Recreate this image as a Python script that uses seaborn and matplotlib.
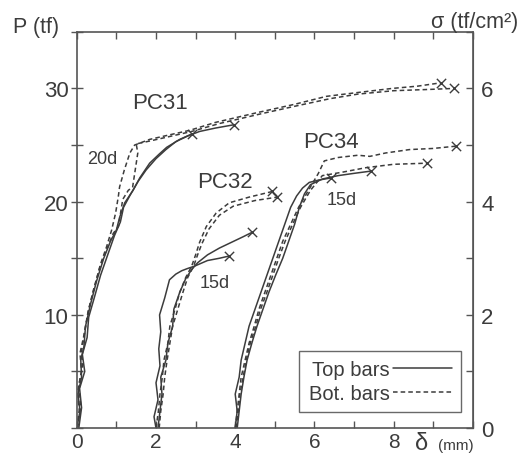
import numpy as np
import pandas as pd
import matplotlib
matplotlib.use("Agg")
import matplotlib.pyplot as plt
import seaborn as sns
from matplotlib.lines import Line2D

# 每条曲线的数据 (δ mm, P tf)，试件 PC32/PC34 已在横轴上平移 2 mm / 4 mm
pc31_top_a_d = [0.0, 0.08, 0.03, 0.12, 0.10, 0.18, 0.22, 0.35, 0.50, 0.68, 0.85, 1.00, 1.08, 1.21, 1.42, 1.59, 1.84, 2.08, 2.27, 2.60, 2.92]
pc31_top_a_p = [0.0, 1.5, 3.0, 4.5, 6.0, 7.2, 9.0, 11.0, 13.0, 15.0, 16.5, 17.5, 18.6, 19.9, 21.0, 22.1, 23.4, 24.2, 24.8, 25.5, 26.0]
pc31_top_b_d = [0.05, 0.12, 0.07, 0.20, 0.14, 0.26, 0.30, 0.44, 0.60, 0.80, 0.95, 1.10, 1.18, 1.35, 1.55, 1.75, 2.00, 2.25, 2.50, 2.80, 3.10, 3.50, 3.98]
pc31_top_b_p = [0.0, 1.8, 3.5, 5.0, 6.5, 8.0, 9.8, 11.5, 13.5, 15.5, 17.0, 18.2, 19.5, 20.6, 21.8, 22.8, 23.8, 24.6, 25.3, 25.8, 26.2, 26.5, 26.8]
pc31_bot_a_d = [0.02, 0.10, 0.05, 0.15, 0.12, 0.20, 0.30, 0.45, 0.60, 0.75, 0.88, 0.98, 1.05, 1.08, 1.20, 1.34, 1.46, 1.84, 2.34, 2.85, 3.50, 4.60, 5.50, 6.30, 7.00, 7.96, 8.60, 9.20]
pc31_bot_a_p = [0.0, 2.0, 3.8, 5.5, 6.8, 8.5, 10.5, 12.5, 14.5, 16.0, 17.5, 19.0, 20.5, 21.3, 22.8, 24.3, 25.0, 25.5, 25.9, 26.3, 27.0, 27.9, 28.6, 29.3, 29.6, 30.0, 30.2, 30.5]
pc31_bot_b_d = [0.0, 0.06, 0.02, 0.12, 0.08, 0.18, 0.28, 0.42, 0.58, 0.78, 0.92, 1.05, 1.16, 1.30, 1.41, 1.54, 1.50, 1.90, 2.40, 2.90, 3.60, 4.70, 5.60, 6.40, 7.10, 8.00, 8.80, 9.52]
pc31_bot_b_p = [0.0, 1.6, 3.2, 5.0, 6.6, 8.2, 10.2, 12.2, 14.2, 16.0, 17.2, 17.8, 20.2, 21.0, 21.3, 24.3, 25.1, 25.4, 25.8, 26.2, 26.9, 27.8, 28.5, 29.1, 29.5, 29.8, 29.9, 30.0]

pc32_top_a_d = [2.00, 1.95, 2.05, 2.00, 2.10, 2.07, 2.12, 2.09, 2.22, 2.34, 2.50, 2.65, 2.80, 2.97, 3.30, 3.60, 3.85]
pc32_top_a_p = [0.0, 1.0, 2.5, 4.0, 5.5, 7.0, 8.5, 10.0, 11.5, 13.1, 13.6, 13.9, 14.1, 14.3, 14.8, 15.0, 15.2]
pc32_top_b_d = [2.05, 2.10, 2.15, 2.12, 2.25, 2.30, 2.42, 2.45, 2.60, 2.75, 2.90, 3.05, 3.30, 3.60, 3.90, 4.20, 4.43]
pc32_top_b_p = [0.0, 1.5, 3.0, 4.5, 6.0, 7.5, 9.0, 10.5, 12.0, 13.2, 14.0, 14.6, 15.3, 15.9, 16.4, 16.9, 17.3]
pc32_bot_a_d = [2.00, 2.06, 2.10, 2.16, 2.20, 2.30, 2.35, 2.48, 2.60, 2.75, 2.90, 3.00, 3.10, 3.27, 3.52, 3.85, 4.35, 4.94]
pc32_bot_a_p = [0.0, 1.5, 3.0, 4.5, 6.0, 7.5, 9.0, 10.5, 12.0, 13.3, 14.3, 15.3, 16.4, 17.8, 19.0, 19.9, 20.4, 20.9]
pc32_bot_b_d = [2.08, 2.12, 2.18, 2.22, 2.28, 2.35, 2.42, 2.55, 2.68, 2.80, 2.95, 3.05, 3.16, 3.34, 3.60, 3.95, 4.50, 5.06]
pc32_bot_b_p = [0.0, 1.5, 3.0, 4.5, 6.0, 7.5, 9.0, 10.5, 12.0, 13.3, 14.3, 15.3, 16.3, 17.6, 18.8, 19.6, 20.1, 20.4]

pc34_top_a_d = [4.00, 4.05, 4.00, 4.10, 4.15, 4.25, 4.35, 4.50, 4.65, 4.80, 4.95, 5.10, 5.25, 5.40, 5.55, 5.70, 5.87, 6.10, 6.42]
pc34_top_a_p = [0.0, 1.5, 3.0, 4.5, 6.0, 7.5, 9.0, 10.5, 12.0, 13.5, 15.0, 16.5, 18.0, 19.5, 20.5, 21.2, 21.7, 21.9, 22.1]
pc34_top_b_d = [4.05, 4.10, 4.15, 4.22, 4.30, 4.42, 4.55, 4.70, 4.85, 5.02, 5.20, 5.35, 5.50, 5.62, 5.75, 5.90, 6.20, 6.60, 7.00, 7.43]
pc34_top_b_p = [0.0, 1.5, 3.0, 4.5, 6.0, 7.5, 9.0, 10.5, 12.0, 13.5, 15.0, 16.5, 18.0, 19.5, 20.7, 21.5, 22.0, 22.3, 22.5, 22.7]
pc34_bot_a_d = [4.00, 4.05, 4.10, 4.15, 4.25, 4.35, 4.48, 4.60, 4.75, 4.90, 5.05, 5.20, 5.40, 5.60, 5.85, 6.10, 6.25, 6.60, 7.10, 7.40, 7.80, 8.40, 9.00, 9.57]
pc34_bot_a_p = [0.0, 1.5, 3.0, 4.5, 6.0, 7.5, 9.0, 10.5, 12.0, 13.5, 15.0, 16.5, 18.0, 19.5, 21.0, 22.5, 23.6, 23.9, 24.1, 24.0, 24.3, 24.6, 24.7, 24.9]
pc34_bot_b_d = [4.02, 4.08, 4.12, 4.20, 4.28, 4.38, 4.52, 4.64, 4.80, 4.95, 5.10, 5.26, 5.45, 5.65, 5.90, 6.20, 6.70, 7.30, 8.00, 8.85]
pc34_bot_b_p = [0.0, 1.5, 3.0, 4.5, 6.0, 7.5, 9.0, 10.5, 12.0, 13.5, 15.0, 16.5, 18.0, 19.5, 21.0, 22.3, 22.6, 23.0, 23.3, 23.4]

curves = {
    ("PC31a", "Top bars"): (pc31_top_a_d, pc31_top_a_p),
    ("PC31b", "Top bars"): (pc31_top_b_d, pc31_top_b_p),
    ("PC31c", "Bot. bars"): (pc31_bot_a_d, pc31_bot_a_p),
    ("PC31d", "Bot. bars"): (pc31_bot_b_d, pc31_bot_b_p),
    ("PC32a", "Top bars"): (pc32_top_a_d, pc32_top_a_p),
    ("PC32b", "Top bars"): (pc32_top_b_d, pc32_top_b_p),
    ("PC32c", "Bot. bars"): (pc32_bot_a_d, pc32_bot_a_p),
    ("PC32d", "Bot. bars"): (pc32_bot_b_d, pc32_bot_b_p),
    ("PC34a", "Top bars"): (pc34_top_a_d, pc34_top_a_p),
    ("PC34b", "Top bars"): (pc34_top_b_d, pc34_top_b_p),
    ("PC34c", "Bot. bars"): (pc34_bot_a_d, pc34_bot_a_p),
    ("PC34d", "Bot. bars"): (pc34_bot_b_d, pc34_bot_b_p),
}

rows = []
for (cid, bars), (d, p) in curves.items():
    for i, (dd, pp) in enumerate(zip(d, p)):
        rows.append({"curve": cid, "bars": bars, "delta": dd, "P": pp, "i": i})
df = pd.DataFrame(rows)
ends = df.sort_values("i").groupby("curve").tail(1)

sns.set_style("ticks")
plt.rcParams["font.family"] = ["Liberation Sans", "DejaVu Sans"]
ink = "#3c3c3c"
plt.rcParams["text.color"] = ink
plt.rcParams["axes.edgecolor"] = "#555555"
plt.rcParams["xtick.color"] = "#555555"
plt.rcParams["ytick.color"] = "#555555"
plt.rcParams["xtick.labelcolor"] = ink
plt.rcParams["ytick.labelcolor"] = ink

fig = plt.figure(figsize=(5.19, 4.56), dpi=100)
ax = fig.add_axes([0.148, 0.059, 0.763, 0.869])

sns.lineplot(data=df, x="delta", y="P", units="curve", style="bars",
             estimator=None, sort=False, color=ink, linewidth=1.1,
             dashes={"Top bars": "", "Bot. bars": (3, 2)}, legend=False, ax=ax)
sns.scatterplot(data=ends, x="delta", y="P", marker="x", color=ink,
                s=45, linewidth=1.0, legend=False, ax=ax, zorder=3)

ax.set_xlim(0, 10)
ax.set_ylim(0, 35)
ax.set_xlabel("")
ax.set_ylabel("")

ax.set_xticks(range(0, 11))
ax.set_xticklabels(["0", "", "2", "", "4", "", "6", "", "8", "", ""], fontsize=15)
ax.set_yticks(range(0, 36, 5))
ax.set_yticklabels(["", "", "10", "", "20", "", "30", ""], fontsize=16)
ax.tick_params(axis="both", direction="in", length=5, width=1, top=True)
ax.tick_params(axis="y", direction="inout", length=8, pad=2)
ax.tick_params(axis="x", pad=2.5)

sec = ax.secondary_yaxis("right", functions=(lambda p: p / 5.0, lambda s: s * 5.0))
sec.set_yticks(range(0, 8))
sec.set_yticklabels(["0", "", "2", "", "4", "", "6", ""], fontsize=16)
sec.tick_params(direction="in", length=5, width=1, pad=6)

for s in ax.spines.values():
    s.set_linewidth(1.2)

# 试件标注
ax.text(2.11, 28.8, "PC31", fontsize=16, ha="center", va="center")
ax.text(0.65, 23.8, "20d", fontsize=13, ha="center", va="center")
ax.text(3.73, 21.8, "PC32", fontsize=16, ha="center", va="center")
ax.text(3.48, 12.9, "15d", fontsize=13, ha="center", va="center")
ax.text(6.42, 25.3, "PC34", fontsize=16, ha="center", va="center")
ax.text(6.68, 20.2, "15d", fontsize=13, ha="center", va="center")

fig.text(0.025, 0.94, "P (tf)", fontsize=15.5, ha="left", va="center")
fig.text(0.998, 0.951, "σ (tf/cm²)", fontsize=15.5, ha="right", va="center")
fig.text(0.813, 0.026, "δ", fontsize=17, ha="center", va="center")
fig.text(0.879, 0.022, "(mm)", fontsize=11, ha="center", va="center")

handles = [Line2D([], [], color=ink, lw=1.1, ls="-"),
           Line2D([], [], color=ink, lw=1.1, ls=(0, (3, 2)))]
leg = ax.legend(handles, ["Top bars", "Bot. bars"], loc="lower right",
                bbox_to_anchor=(0.97, 0.04), markerfirst=False, fancybox=False,
                frameon=True, fontsize=14.5, handlelength=2.9, handletextpad=0.2,
                borderpad=0.45, labelspacing=0.25, borderaxespad=0.0)
leg.get_frame().set_edgecolor("#444444")
leg.get_frame().set_linewidth(1.0)

fig.savefig("out.png", dpi=100)
